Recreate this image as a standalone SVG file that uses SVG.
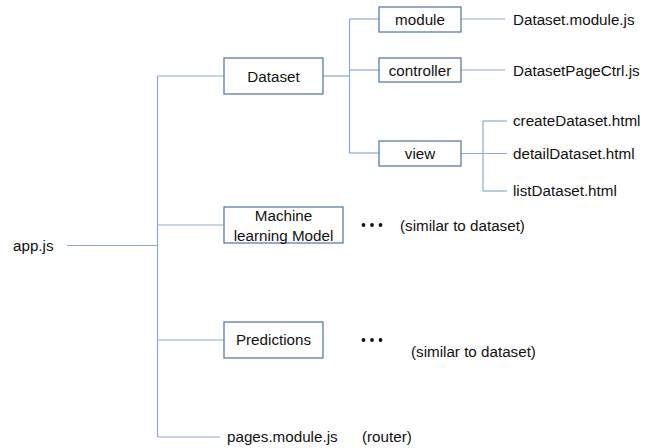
<svg xmlns="http://www.w3.org/2000/svg" width="652" height="448" viewBox="0 0 652 448">
  <style>
    .bg { fill: #ffffff; }
    .box { fill: #ffffff; stroke: #4f71a6; stroke-width: 1.2; }
    .wire { fill: none; stroke: #8ea8d2; stroke-width: 1.2; }
    text { font-family: "Liberation Sans", Arial, sans-serif; font-size: 15.2px; fill: #111111; }
    .c { text-anchor: middle; }
    .dots { fill: #111111; }
  </style>
  <rect class="bg" x="0" y="0" width="652" height="448"/>

  <!-- tree connectors -->
  <g id="connectors">
    <!-- root to trunk -->
    <path class="wire" d="M67 245.5 H157.5"/>
    <path class="wire" d="M157.5 76 V437"/>
    <path class="wire" d="M157.5 76 H224"/>
    <path class="wire" d="M157.5 225 H224"/>
    <path class="wire" d="M157.5 340 H224"/>
    <path class="wire" d="M157.5 437 H220"/>
    <!-- Dataset children -->
    <path class="wire" d="M323 76 H349.5"/>
    <path class="wire" d="M349.5 19 V153"/>
    <path class="wire" d="M349.5 19 H379"/>
    <path class="wire" d="M349.5 70 H379"/>
    <path class="wire" d="M349.5 153 H379"/>
    <!-- leaf files -->
    <path class="wire" d="M461 19 H505"/>
    <path class="wire" d="M461 70 H505"/>
    <path class="wire" d="M461 153.5 H507"/>
    <path class="wire" d="M483 121 V191"/>
    <path class="wire" d="M483 121 H507"/>
    <path class="wire" d="M483 191 H507"/>
  </g>

  <g id="app">
    <text x="13" y="251">app.js</text>
  </g>

  <g id="dataset">
    <rect class="box" x="224" y="58" width="99" height="36"/>
    <text class="c" x="273.5" y="81.5">Dataset</text>
  </g>

  <g id="module">
    <rect class="box" x="379" y="7" width="82" height="25"/>
    <text class="c" x="420" y="24.5">module</text>
  </g>

  <g id="controller">
    <rect class="box" x="379" y="58" width="82" height="24"/>
    <text class="c" x="420" y="75.5">controller</text>
  </g>

  <g id="view">
    <rect class="box" x="379" y="141" width="82" height="25"/>
    <text class="c" x="420" y="159">view</text>
  </g>

  <g id="dataset-module-js">
    <text x="513" y="24.5">Dataset.module.js</text>
  </g>
  <g id="dataset-page-ctrl">
    <text x="513" y="75.5">DatasetPageCtrl.js</text>
  </g>
  <g id="create-dataset">
    <text x="513" y="126">createDataset.html</text>
  </g>
  <g id="detail-dataset">
    <text x="513" y="159">detailDataset.html</text>
  </g>
  <g id="list-dataset">
    <text x="513" y="196">listDataset.html</text>
  </g>

  <g id="ml-model">
    <rect class="box" x="224" y="207" width="119" height="36"/>
    <text class="c" x="283.5" y="221">Machine</text>
    <text class="c" x="283.5" y="240.5">learning Model</text>
  </g>
  <g id="ml-similar">
    <circle class="dots" cx="363.5" cy="225" r="1.9"/>
    <circle class="dots" cx="372" cy="225" r="1.9"/>
    <circle class="dots" cx="380.5" cy="225" r="1.9"/>
    <text x="400" y="231">(similar to dataset)</text>
  </g>

  <g id="predictions">
    <rect class="box" x="224" y="322" width="99" height="36"/>
    <text class="c" x="273.5" y="345">Predictions</text>
  </g>
  <g id="predictions-similar">
    <circle class="dots" cx="363.5" cy="340" r="1.9"/>
    <circle class="dots" cx="372" cy="340" r="1.9"/>
    <circle class="dots" cx="380.5" cy="340" r="1.9"/>
    <text x="411" y="357">(similar to dataset)</text>
  </g>

  <g id="pages-module">
    <text x="227" y="442">pages.module.js</text>
    <text x="362" y="442">(router)</text>
  </g>
</svg>
